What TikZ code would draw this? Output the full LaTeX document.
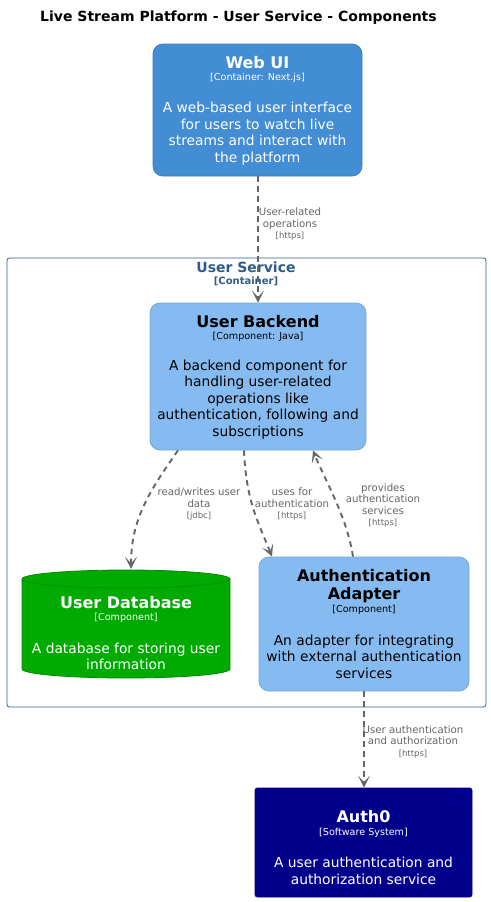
\documentclass[tikz,border=0pt]{standalone}
\usepackage{fontspec}
\setmainfont{DejaVu Sans}
\usetikzlibrary{arrows.meta,calc}
\newcommand{\rtechfont}{\fontsize{8.5}{10}\selectfont}
\definecolor{webfill}{HTML}{438DD5}
\definecolor{webline}{HTML}{3C7FC0}
\definecolor{compfill}{HTML}{85BBF0}
\definecolor{compline}{HTML}{78A8D8}
\definecolor{dbfill}{HTML}{00AA00}
\definecolor{dbline}{HTML}{008C00}
\definecolor{extfill}{HTML}{00008B}
\definecolor{extline}{HTML}{000070}
\definecolor{bnd}{HTML}{2E5C8A}
\definecolor{relc}{HTML}{666666}
\tikzset{
  boxshape/.style={draw, rounded corners=10pt, line width=0.8pt, inner sep=0pt},
  ttl/.style={inner sep=0pt, font=\fontsize{16}{18}\selectfont\bfseries, align=center},
  tech/.style={inner sep=0pt, font=\fontsize{9.6}{11}\selectfont},
  desc/.style={inner sep=0pt, font=\fontsize{13.8}{16.5}\selectfont, align=center},
  rel/.style={draw=relc, line width=1.9pt, dash pattern=on 5.5pt off 4.5pt,
    -{Stealth[length=12pt,width=12pt,inset=6.5pt]}},
  rlabel/.style={inner sep=0pt, text=relc, font=\fontsize{10.2}{11.5}\selectfont, align=center},
}
\begin{document}
\begin{tikzpicture}[x=1pt,y=-1pt]
\useasboundingbox (0,0) rectangle (490,902);
\fill[white] (0,0) rectangle (490,902);
% title
\node[inner sep=0pt, font=\fontsize{14}{16}\selectfont\bfseries] (title) at (238.5,18) {Live Stream Platform - User Service - Components};
% boundary
\draw[bnd, line width=0.8pt, rounded corners=2.5pt] (7,258) rectangle (486,707);
\node[inner sep=0pt, text=bnd, font=\fontsize{14}{16}\selectfont\bfseries] (bndT) at (246,267) {User Service};
\node[inner sep=0pt, text=bnd, font=\fontsize{10}{12}\selectfont\bfseries] (bndS) at (246,281.5) {[Container]};
% Web UI
\node[boxshape, fill=webfill, draw=webline, minimum width=209pt, minimum height=132pt] (web) at (257.5,110) {};
\node[ttl, text=white] (webT) at (257.5,63) {Web UI};
\node[tech, text=white] (webS) at (257.5,78) {[Container: Next.js]};
\node[desc, text=white] (webD) at (257.5,133.5) {A web-based user interface\\for users to watch live\\streams and interact with\\the platform};
% User Backend
\node[boxshape, fill=compfill, draw=compline, minimum width=216pt, minimum height=147pt] (backend) at (258,376.5) {};
\node[ttl, text=black] (beT) at (258,322) {User Backend};
\node[tech, text=black] (beS) at (258,337) {[Component: Java]};
\node[desc, text=black] (beD) at (258,399.5) {A backend component for\\handling user-related\\operations like\\authentication, following and\\subscriptions};
% User Database (cylinder)
\path[fill=dbfill, draw=dbline, line width=0.8pt] (22,579) -- (22,669) arc (180:360:104pt and 9pt) -- (230,579) arc (0:180:104pt and 9pt) -- cycle;
\draw[dbline, line width=0.8pt] (22,579) arc (180:360:104pt and 9pt);
\node[inner sep=0pt, minimum width=208pt, minimum height=108pt] (db) at (126,624) {};
\node[ttl, text=white] (dbT) at (126,603) {User Database};
\node[tech, text=white] (dbS) at (126,618) {[Component]};
\node[desc, text=white] (dbD) at (126,656.5) {A database for storing user\\information};
% Authentication Adapter
\node[boxshape, fill=compfill, draw=compline, minimum width=210pt, minimum height=134pt] (adapter) at (364,624) {};
\node[ttl, text=black] (adT) at (364,586) {Authentication\\Adapter};
\node[tech, text=black] (adS) at (364,610) {[Component]};
\node[desc, text=black] (adD) at (364,656.5) {An adapter for integrating\\with external authentication\\services};
% Auth0
\node[draw=extline, fill=extfill, line width=0.8pt, rounded corners=2.5pt, inner sep=0pt, minimum width=217pt, minimum height=109pt] (auth) at (363.5,842.5) {};
\draw[draw=blue!45!extfill, line width=0.6pt, rounded corners=1pt] ($(auth.north east)+(-19,5)$) rectangle ($(auth.north east)+(-3,16)$);
\node[ttl, text=white] (auT) at (363.5,817) {Auth0};
\node[tech, text=white] (auS) at (363.5,833) {[Software System]};
\node[desc, text=white] (auD) at (363.5,871) {A user authentication and\\authorization service};
% relations
\draw[rel] ($(web.south)+(0.5,0)$) -- ($(web.south |- backend.north)+(0.5,0)$);
\node[rlabel] (l1) at (290,224.5) {User-related\\operations\\{\rtechfont [https]}};
\draw[rel] ($(backend.south)+(-80,0)$) .. controls +(-28,40) and +(0,-50) .. ($(db.north)+(5,-1)$);
\node[rlabel] (l2) at (199,504.5) {read/writes user\\data\\{\rtechfont [jdbc]}};
\draw[rel] ($(backend.south)+(-14,0)$) .. controls +(2,50) and +(-14,-35) .. ($(adapter.north)+(-92,0)$);
\node[rlabel] (l3) at (292,504.5) {uses for\\authentication\\{\rtechfont [https]}};
\draw[rel] ($(adapter.north)+(-11,0)$) .. controls +(-6,-40) and +(12,30) .. ($(backend.south)+(55,0)$);
\node[rlabel] (l4) at (383,505.5) {provides\\authentication\\services\\{\rtechfont [https]}};
\draw[rel] (adapter.south) -- (adapter.south |- auth.north);
\node[rlabel] (l5) at (413,741.5) {User authentication\\and authorization\\{\rtechfont [https]}};
\end{tikzpicture}
\end{document}
